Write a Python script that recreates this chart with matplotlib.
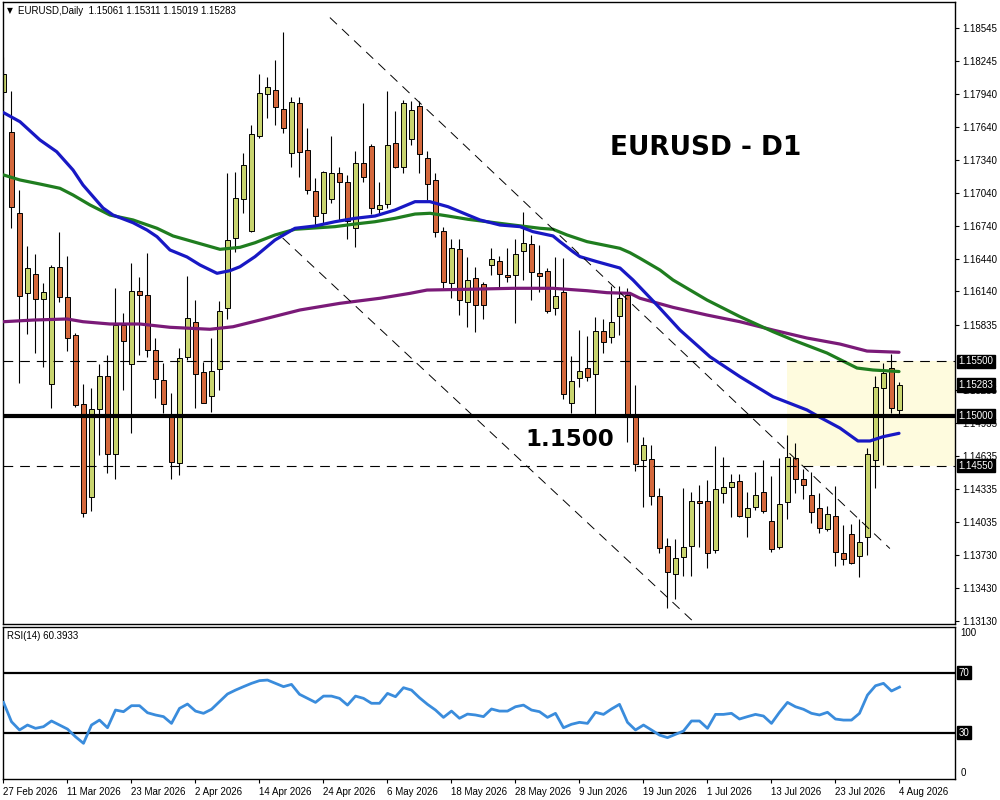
import matplotlib
matplotlib.use("Agg")
import matplotlib.pyplot as plt
from matplotlib.patches import Rectangle
import matplotlib.transforms as mtransforms

plt.rcParams['lines.scale_dashes'] = False

# ---------------- data ----------------
opens = [1.17963, 1.17593, 1.16853, 1.16122, 1.16296, 1.16068, 1.15291, 1.16363, 1.16086, 1.15739,
         1.15109, 1.14265, 1.15063, 1.15367, 1.14652, 1.15830, 1.15474, 1.16141, 1.16104, 1.15602,
         1.15328, 1.15002, 1.14575, 1.15543, 1.15858, 1.15406, 1.15184, 1.15428, 1.15985, 1.16625,
         1.16981, 1.16691, 1.17559, 1.17940, 1.17979, 1.17805, 1.17401, 1.17857, 1.17431, 1.17059,
         1.16853, 1.16981, 1.17218, 1.17136, 1.16716, 1.17309, 1.17467, 1.16889, 1.16935, 1.17492,
         1.17273, 1.17529, 1.17833, 1.17355, 1.17157, 1.16691, 1.16214, 1.16524, 1.16040, 1.16259,
         1.16204, 1.16381, 1.16420, 1.16289, 1.16289, 1.16511, 1.16570, 1.16305, 1.16329, 1.15985,
         1.16131, 1.15123, 1.15346, 1.15443, 1.15383, 1.15781, 1.15721, 1.15915, 1.16107, 1.15002,
         1.14600, 1.14606, 1.14271, 1.13817, 1.13556, 1.13717, 1.13815, 1.14226, 1.14226, 1.13778,
         1.14301, 1.14351, 1.14408, 1.14077, 1.14174, 1.14305, 1.14043, 1.13803, 1.14219, 1.14615,
         1.14424, 1.14280, 1.14159, 1.13967, 1.14091, 1.13748, 1.13922, 1.13723, 1.13900, 1.14600,
         1.15255, 1.15443, 1.15061]
highs = [1.18283, 1.17970, 1.17066, 1.16554, 1.16481, 1.16216, 1.16381, 1.16682, 1.16463, 1.15760,
         1.15291, 1.15255, 1.15474, 1.15559, 1.16168, 1.15945, 1.16402, 1.16274, 1.16488, 1.15717,
         1.15483, 1.15209, 1.15620, 1.16280, 1.16061, 1.15498, 1.15717, 1.16052, 1.17218, 1.17233,
         1.17401, 1.17659, 1.18125, 1.18095, 1.18253, 1.18506, 1.17912, 1.17912, 1.17629, 1.17172,
         1.17239, 1.17559, 1.17278, 1.17203, 1.17422, 1.17863, 1.17486, 1.17136, 1.17970, 1.17787,
         1.17888, 1.17878, 1.17881, 1.17422, 1.17218, 1.16731, 1.16615, 1.16615, 1.16451, 1.16360,
         1.16228, 1.16533, 1.16463, 1.16536, 1.16615, 1.16862, 1.16655, 1.16563, 1.16351, 1.16457,
         1.16442, 1.15550, 1.15787, 1.15732, 1.15909, 1.15885, 1.16189, 1.16189, 1.16168, 1.15285,
         1.14807, 1.14737, 1.14344, 1.13885, 1.13879, 1.14342, 1.14311, 1.14372, 1.14417, 1.14728,
         1.14630, 1.14469, 1.14472, 1.14311, 1.14493, 1.14600, 1.14454, 1.14615, 1.14828, 1.14758,
         1.14515, 1.14493, 1.14296, 1.14180, 1.14363, 1.14006, 1.14016, 1.14058, 1.14707, 1.15367,
         1.15483, 1.15568, 1.15311]
lows = [1.17888, 1.16719, 1.15303, 1.15751, 1.15580, 1.15452, 1.15075, 1.16046, 1.15595, 1.15081,
        1.14082, 1.14134, 1.14646, 1.14479, 1.14424, 1.15239, 1.14844, 1.15559, 1.15543, 1.15169,
        1.15026, 1.14424, 1.14463, 1.15513, 1.15078, 1.15118, 1.15041, 1.15239, 1.15885, 1.16502,
        1.16853, 1.16685, 1.17538, 1.17720, 1.17659, 1.17589, 1.17278, 1.17187, 1.17029, 1.16719,
        1.16762, 1.16947, 1.16792, 1.16618, 1.16542, 1.17141, 1.16844, 1.16837, 1.16904, 1.17264,
        1.17224, 1.17477, 1.17218, 1.16974, 1.16639, 1.16168, 1.16077, 1.15924, 1.15817, 1.15772,
        1.15885, 1.16289, 1.16177, 1.16228, 1.15854, 1.16244, 1.16061, 1.16137, 1.15945, 1.15924,
        1.15154, 1.15026, 1.15264, 1.15324, 1.15011, 1.15574, 1.15666, 1.15742, 1.14767, 1.14502,
        1.14174, 1.14189, 1.13748, 1.13246, 1.13328, 1.13541, 1.13541, 1.13808, 1.13611, 1.13748,
        1.14210, 1.14077, 1.14077, 1.13900, 1.14143, 1.14113, 1.13763, 1.13785, 1.14058, 1.14301,
        1.14241, 1.14022, 1.13936, 1.13954, 1.13635, 1.13641, 1.13650, 1.13529, 1.13732, 1.14342,
        1.14554, 1.15026, 1.15019]
closes = [1.18122, 1.16908, 1.16098, 1.16351, 1.16068, 1.16131, 1.16363, 1.16086, 1.15711, 1.15102,
          1.14119, 1.15063, 1.15367, 1.14652, 1.15830, 1.15689, 1.16141, 1.16104, 1.15602, 1.15337,
          1.15109, 1.14585, 1.15529, 1.15894, 1.15383, 1.15118, 1.15413, 1.15961, 1.16609, 1.16990,
          1.17294, 1.17574, 1.17949, 1.18004, 1.17821, 1.17629, 1.17866, 1.17415, 1.17066, 1.16828,
          1.17227, 1.17218, 1.17141, 1.16783, 1.17309, 1.17187, 1.16899, 1.16929, 1.17477, 1.17273,
          1.17857, 1.17796, 1.17392, 1.17118, 1.16685, 1.16221, 1.16533, 1.16061, 1.16244, 1.16015,
          1.16015, 1.16433, 1.16296, 1.16268, 1.16481, 1.16584, 1.16314, 1.16283, 1.15963, 1.16098,
          1.15200, 1.15321, 1.15415, 1.15355, 1.15781, 1.15680, 1.15863, 1.16077, 1.15011, 1.14563,
          1.14737, 1.14271, 1.13794, 1.13580, 1.13702, 1.13808, 1.14226, 1.14205, 1.13748, 1.14332,
          1.14351, 1.14402, 1.14091, 1.14159, 1.14280, 1.14137, 1.13785, 1.14195, 1.14625, 1.14424,
          1.14372, 1.14122, 1.13976, 1.14104, 1.13757, 1.13693, 1.13662, 1.13854, 1.14655, 1.15269,
          1.15392, 1.15072, 1.15283]

# moving averages, read at bar positions along each line
ma_fast_x = [0, 2.06, 4.56, 6.65, 8.69, 9.94, 12.44, 13.69, 16.19, 17.94, 19.19, 20.81, 22.94,
             24.56, 26.69, 28.31, 29.56, 31.44, 33.94, 36.44, 38.94, 41.44, 43.94, 46.44, 48.94,
             51.44, 53.31, 55.56, 58.06, 59.56, 62.06, 64.56, 66.19, 68.69, 69.56, 71.19, 72.06,
             74.19, 77.06, 78.69, 81.69, 84.56, 88.31, 92.06, 96.19, 100.44, 102.06, 104.56,
             106.81, 108.31, 109.94, 111.94]
ma_fast = [1.17772, 1.17689, 1.17522, 1.17415, 1.17248, 1.17111, 1.16901, 1.16837, 1.16767, 1.16700,
           1.16639, 1.16518, 1.16454, 1.16381, 1.16305, 1.16329, 1.16365, 1.16457, 1.16609, 1.16716,
           1.16737, 1.16776, 1.16807, 1.16828, 1.16883, 1.16959, 1.16959, 1.16913, 1.16837, 1.16792,
           1.16746, 1.16731, 1.16685, 1.16646, 1.16594, 1.16502, 1.16457, 1.16411, 1.16353, 1.16244,
           1.16015, 1.15787, 1.15543, 1.15361, 1.15178, 1.15057, 1.14990, 1.14892, 1.14774, 1.14774,
           1.14813, 1.14844]
ma_mid_x = [0, 2.06, 4.56, 7.06, 8.69, 10.81, 13.31, 16.19, 19.19, 21.19, 23.69, 27.06, 29.56,
            31.44, 33.94, 36.44, 41.44, 43.94, 46.44, 48.94, 51.44, 53.31, 55.56, 58.06, 60.44,
            63.69, 67.06, 68.69, 70.44, 72.94, 77.06, 78.31, 79.56, 82.06, 83.69, 87.94, 92.06,
            96.19, 98.69, 102.94, 106.69, 108.69, 111.94]
ma_mid = [1.17203, 1.17157, 1.17120, 1.17081, 1.17020, 1.16929, 1.16837, 1.16792, 1.16716, 1.16646,
          1.16594, 1.16524, 1.16542, 1.16584, 1.16655, 1.16707, 1.16731, 1.16755, 1.16776, 1.16807,
          1.16846, 1.16853, 1.16828, 1.16798, 1.16776, 1.16746, 1.16716, 1.16707, 1.16655, 1.16594,
          1.16533, 1.16493, 1.16442, 1.16335, 1.16244, 1.16061, 1.15909, 1.15772, 1.15696, 1.15577,
          1.15440, 1.15422, 1.15408]
ma_slow_x = [0, 3.69, 7.94, 9.94, 13.31, 17.06, 20.81, 25.81, 28.69, 32.94, 37.06, 42.06, 47.06,
             50.81, 52.94, 57.94, 63.69, 68.69, 72.94, 75.44, 78.31, 79.56, 83.69, 87.94, 92.06,
             96.19, 100.44, 104.56, 107.94, 111.94]
ma_slow = [1.15863, 1.15878, 1.15888, 1.15863, 1.15842, 1.15842, 1.15812, 1.15794, 1.15817, 1.15894,
           1.15970, 1.16031, 1.16077, 1.16122, 1.16152, 1.16159, 1.16168, 1.16168, 1.16146, 1.16128,
           1.16122, 1.16077, 1.15994, 1.15924, 1.15863, 1.15787, 1.15714, 1.15659, 1.15595, 1.15584]

rsi = [50.2, 37.3, 31.8, 35.1, 32.9, 34.0, 37.8, 35.1, 32.4, 27.3,
       22.9, 35.1, 38.4, 33.3, 45.1, 44.0, 48.0, 48.0, 43.3, 41.8,
       40.7, 36.2, 46.2, 49.1, 44.4, 42.9, 45.6, 50.7, 55.8, 58.4,
       60.7, 62.9, 64.7, 65.1, 62.9, 60.7, 62.2, 55.6, 52.9, 50.2,
       54.4, 54.4, 52.9, 48.4, 54.4, 52.9, 49.6, 49.6, 56.2, 54.0,
       60.0, 58.4, 53.3, 48.9, 45.1, 40.2, 44.4, 39.6, 42.4, 41.8,
       40.7, 45.8, 44.4, 44.4, 47.3, 48.4, 45.1, 44.0, 40.2, 42.9,
       33.3, 35.6, 36.9, 36.2, 43.6, 42.2, 45.8, 48.9, 36.9, 31.8,
       35.1, 31.8, 28.4, 26.7, 28.9, 31.1, 37.8, 37.8, 32.9, 42.2,
       42.2, 42.9, 39.1, 40.7, 42.2, 41.1, 36.2, 43.6, 50.2, 47.3,
       45.6, 42.9, 41.8, 43.6, 39.1, 38.4, 38.4, 42.9, 55.1, 61.3,
       62.9, 57.8, 60.3933]

date_idx = list(range(0, 113, 8))
date_labels = ['27 Feb 2026', '11 Mar 2026', '23 Mar 2026', '2 Apr 2026', '14 Apr 2026',
               '24 Apr 2026', '6 May 2026', '18 May 2026', '28 May 2026', '9 Jun 2026',
               '19 Jun 2026', '1 Jul 2026', '13 Jul 2026', '23 Jul 2026', '4 Aug 2026']
price_ticks = [1.18545, 1.18245, 1.17940, 1.17640, 1.17340, 1.17040, 1.16740, 1.16440, 1.16140,
               1.15835, 1.15235, 1.14935, 1.14635, 1.14335, 1.14035, 1.13730, 1.13430, 1.13130]
level_upper = 1.15500
level_key = 1.15000
level_lower = 1.14550
last_price = 1.15283
zone_start = 97.9
chan_upper_x = [40.8, 110.8]
chan_upper_y = [1.18640, 1.13792]
chan_lower_x = [34.9, 86.7]
chan_lower_y = [1.16627, 1.13093]
rsi_levels = [70, 30]
header = 'EURUSD,Daily  1.15061 1.15311 1.15019 1.15283'
rsi_header = 'RSI(14) 60.3933'

# ---------------- styling ----------------
BULL = '#C8D46E'
BEAR = '#D4683C'
C_FAST = '#1818C4'
C_MID = '#1F7D1F'
C_SLOW = '#7A1A78'
C_RSI = '#3A8CDC'
ZONE = '#FEFBDE'
SMALL = ['Liberation Sans', 'DejaVu Sans']

fig = plt.figure(figsize=(10, 8), dpi=100)
fig.patch.set_facecolor('white')
ax = fig.add_axes([0.0025, 0.2196, 0.9525, 0.7783])
ax2 = fig.add_axes([0.0025, 0.02625, 0.9525, 0.1904])

xlim = (-0.125, 118.94)
for a in (ax, ax2):
    a.set_xlim(*xlim)
    for s in a.spines.values():
        s.set_color('black')
        s.set_linewidth(1.0)
ax.set_ylim(1.13100, 1.18785)
ax2.set_ylim(-0.9, 100.7)

# zone
ax.add_patch(Rectangle((zone_start, level_lower), xlim[1] - zone_start, level_upper - level_lower,
                       facecolor=ZONE, edgecolor='none', zorder=0))

# candles
w = 0.7
for i, (o, h, l, c) in enumerate(zip(opens, highs, lows, closes)):
    ax.vlines(i, l, h, color='black', lw=0.8, zorder=2)
    bot = min(o, c)
    hgt = max(abs(c - o), 0.00008)
    ax.add_patch(Rectangle((i - w / 2, bot), w, hgt, facecolor=BULL if c >= o else BEAR,
                           edgecolor='black', lw=0.7, zorder=2.5))

# moving averages
ax.plot(ma_slow_x, ma_slow, color=C_SLOW, lw=2.3, zorder=3, solid_capstyle='round', solid_joinstyle='round')
ax.plot(ma_mid_x, ma_mid, color=C_MID, lw=2.3, zorder=3, solid_capstyle='round', solid_joinstyle='round')
ax.plot(ma_fast_x, ma_fast, color=C_FAST, lw=2.3, zorder=3, solid_capstyle='round', solid_joinstyle='round')

# levels
ax.axhline(level_upper, color='black', lw=0.8, ls=(0, (7, 5)), zorder=4)
ax.axhline(level_lower, color='black', lw=0.8, ls=(0, (7, 5)), zorder=4)
ax.axhline(level_key, color='black', lw=3.0, zorder=4)

# channel
ax.plot(chan_upper_x, chan_upper_y, color='black', lw=0.7, ls=(0, (7, 5)), zorder=4)
ax.plot(chan_lower_x, chan_lower_y, color='black', lw=0.7, ls=(0, (7, 5)), zorder=4)

# texts
ax.text(87.8, 1.17449, 'EURUSD - D1', fontsize=19, fontweight='bold', family='DejaVu Sans',
        ha='center', va='center', zorder=6)
ax.text(70.8, 1.14792, '1.1500', fontsize=16.5, fontweight='bold', family='DejaVu Sans',
        ha='center', va='center', zorder=6)
fig.text(0.010, 1 - 10.5 / 800, '\u25BC', fontsize=5.5, family='DejaVu Sans', ha='center', va='center')
fig.text(0.018, 1 - 10.7 / 800, header, fontsize=7, family=SMALL, ha='left', va='center')

# price axis
ax.yaxis.tick_right()
ax.set_yticks(price_ticks)
ax.set_yticklabels(['%.5f' % v for v in price_ticks], fontsize=7, family=SMALL)
ax.tick_params(axis='y', direction='out', length=3, width=0.8, pad=2, colors='black')
ax.set_xticks([])

trans = mtransforms.blended_transform_factory(ax.transAxes, ax.transData)
for val in [level_upper, last_price, level_key, level_lower]:
    ax.text(1.0035, val, '%.5f' % val, transform=trans, fontsize=7, family=SMALL, color='white',
            ha='left', va='center', clip_on=False, zorder=10,
            bbox=dict(boxstyle='square,pad=0.18', facecolor='black', edgecolor='black'))

# RSI panel
ax2.plot(range(len(rsi)), rsi, color=C_RSI, lw=2.0, zorder=3, solid_joinstyle='round')
for lv in rsi_levels:
    ax2.axhline(lv, color='black', lw=1.6, zorder=2)
ax2.set_yticks([])
trans2 = mtransforms.blended_transform_factory(ax2.transAxes, ax2.transData)
ax2.text(1.006, 100, '100', transform=trans2, fontsize=7, family=SMALL, ha='left', va='top',
         clip_on=False)
ax2.text(1.006, 0, '0', transform=trans2, fontsize=7, family=SMALL, ha='left', va='bottom',
         clip_on=False)
for lv in rsi_levels:
    ax2.text(1.0035, lv, str(lv), transform=trans2, fontsize=7, family=SMALL, color='white',
             ha='left', va='center', clip_on=False, zorder=10,
             bbox=dict(boxstyle='square,pad=0.15', facecolor='black', edgecolor='black'))
ax2.text(0.0047, 0.94, rsi_header, transform=ax2.transAxes, fontsize=7, family=SMALL,
         ha='left', va='center')
ax2.set_xticks(date_idx)
ax2.set_xticklabels(date_labels, fontsize=7, family=SMALL, ha='left')
ax2.tick_params(axis='x', direction='out', length=3, width=0.8, pad=3)

fig.savefig('out.png', dpi=100, facecolor='white')
